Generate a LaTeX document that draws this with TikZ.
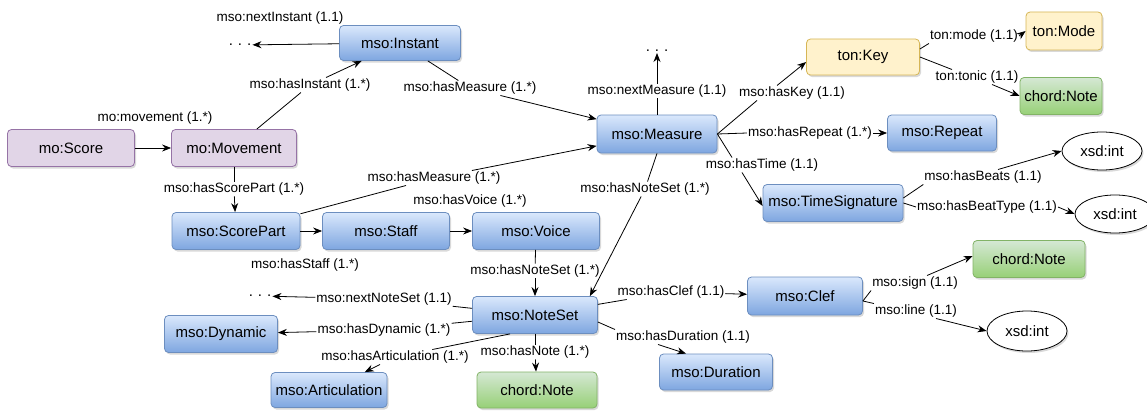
\documentclass[tikz,border=0pt]{standalone}
\usepackage{fontspec}
\setmainfont{Liberation Sans}
\usetikzlibrary{shapes.geometric,shadows,arrows.meta}

\definecolor{blueTop}{HTML}{DAE8FC}
\definecolor{blueBot}{HTML}{7EA6E0}
\definecolor{blueEdge}{HTML}{6C8EBF}
\definecolor{greenTop}{HTML}{D5E8D4}
\definecolor{greenBot}{HTML}{97D077}
\definecolor{greenEdge}{HTML}{82B366}
\definecolor{purpleFill}{HTML}{E1D5E7}
\definecolor{purpleEdge}{HTML}{9673A6}
\definecolor{yellowFill}{HTML}{FFF2CC}
\definecolor{yellowEdge}{HTML}{D6B656}

\tikzset{
  box/.style={rectangle, rounded corners=4pt, line width=0.8pt, inner sep=0pt,
    font=\fontsize{15}{18}\selectfont,
    drop shadow={shadow xshift=1.5pt, shadow yshift=-2pt, opacity=0.3}},
  bluebox/.style={box, top color=blueTop, bottom color=blueBot, draw=blueEdge},
  greenbox/.style={box, top color=greenTop, bottom color=greenBot, draw=greenEdge},
  purplebox/.style={box, fill=purpleFill, draw=purpleEdge},
  yellowbox/.style={box, fill=yellowFill, draw=yellowEdge},
  literal/.style={ellipse, draw=black, fill=white, line width=0.8pt, inner sep=0pt,
    font=\fontsize{15}{18}\selectfont,
    drop shadow={shadow xshift=1.5pt, shadow yshift=-2pt, opacity=0.3}},
  lbl/.style={font=\fontsize{13.5}{16}\selectfont, inner sep=1pt},
  more/.style={font=\fontsize{15}{18}\selectfont, inner sep=1pt},
  rel/.style={draw=black, line width=0.8pt},
  arr/.style={rel, -{Stealth[length=9pt,width=7pt]}},
}

\begin{document}
\begin{tikzpicture}[x=1pt, y=-1pt]
\useasboundingbox (0,0) rectangle (1147,412);

% classes
\node[bluebox, minimum width=121pt, minimum height=35pt] (inst) at (400,43) {mso:Instant};
\node[purplebox, minimum width=127pt, minimum height=37pt] (score) at (71,148) {mo:Score};
\node[purplebox, minimum width=125pt, minimum height=37pt] (mov) at (234,148) {mo:Movement};
\node[bluebox, minimum width=128pt, minimum height=37pt] (spart) at (236,231) {mso:ScorePart};
\node[bluebox, minimum width=127pt, minimum height=37pt] (staff) at (386,231) {mso:Staff};
\node[bluebox, minimum width=127pt, minimum height=37pt] (voice) at (536,231) {mso:Voice};
\node[bluebox, minimum width=120pt, minimum height=38pt] (meas) at (657,134) {mso:Measure};
\node[yellowbox, minimum width=113pt, minimum height=36pt] (key) at (863,57) {ton:Key};
\node[yellowbox, minimum width=76pt, minimum height=38pt] (mode) at (1064,31) {ton:Mode};
\node[greenbox, minimum width=82pt, minimum height=37pt] (noteA) at (1061,96) {chord:Note};
\node[bluebox, minimum width=109pt, minimum height=36pt] (rep) at (942,133) {mso:Repeat};
\node[literal, minimum width=80pt, minimum height=38pt] (intA) at (1102,151) {xsd:int};
\node[bluebox, minimum width=140pt, minimum height=37pt] (tsig) at (833,203) {mso:TimeSignature};
\node[literal, minimum width=80pt, minimum height=38pt] (intB) at (1115,214) {xsd:int};
\node[greenbox, minimum width=112pt, minimum height=37pt] (noteB) at (1029,259) {chord:Note};
\node[bluebox, minimum width=115pt, minimum height=38pt] (clef) at (805,296) {mso:Clef};
\node[literal, minimum width=80pt, minimum height=40pt] (intC) at (1027,331) {xsd:int};
\node[bluebox, minimum width=125pt, minimum height=37pt] (ns) at (535,315) {mso:NoteSet};
\node[bluebox, minimum width=113pt, minimum height=36pt] (dur) at (716,372) {mso:Duration};
\node[greenbox, minimum width=120pt, minimum height=36pt] (noteC) at (537,390) {chord:Note};
\node[bluebox, minimum width=116pt, minimum height=35pt] (artic) at (329,390) {mso:Articulation};
\node[bluebox, minimum width=113pt, minimum height=37pt] (dyn) at (221,334) {mso:Dynamic};

% open continuations
\node[more] (dotsA) at (240,45) {.\,\,.\,\,.};
\node[more] (dotsB) at (657,51) {.\,\,.\,\,.};
\node[more] (dotsC) at (260,296) {.\,\,.\,\,.};

% property labels
\node[lbl] (lNextInst) at (280,18) {mso:nextInstant (1.1)};
\node[lbl] (lHasInst) at (310,85) {mso:hasInstant (1.*)};
\node[lbl] (lMovement) at (155,118) {mo:movement (1.*)};
\node[lbl] (lScorePart) at (234,189) {mso:hasScorePart (1.*)};
\node[lbl] (lMeasSP) at (434,178) {mso:hasMeasure (1.*)};
\node[lbl] (lStaff) at (305,265) {mso:hasStaff (1.*)};
\node[lbl] (lVoice) at (470,201) {mso:hasVoice (1.*)};
\node[lbl] (lNsVoice) at (535,271) {mso:hasNoteSet (1.*)};
\node[lbl] (lNsMeas) at (645,189) {mso:hasNoteSet (1.*)};
\node[lbl] (lMeasInst) at (470,88) {mso:hasMeasure (1.*)};
\node[lbl] (lNextMeas) at (657,91) {mso:nextMeasure (1.1)};
\node[lbl] (lKey) at (792,93) {mso:hasKey (1.1)};
\node[lbl] (lRepeat) at (810,133) {mso:hasRepeat (1.*)};
\node[lbl] (lTime) at (762,165) {mso:hasTime (1.1)};
\node[lbl] (lMode) at (974,36) {ton:mode (1.1)};
\node[lbl] (lTonic) at (977,77) {ton:tonic (1.1)};
\node[lbl] (lBeats) at (983,177) {mso:hasBeats (1.1)};
\node[lbl] (lBeatType) at (987,207) {mso:hasBeatType (1.1)};
\node[lbl] (lClef) at (671,292) {mso:hasClef (1.1)};
\node[lbl] (lSign) at (915,283) {mso:sign (1.1)};
\node[lbl] (lLine) at (916,311) {mso:line (1.1)};
\node[lbl] (lDur) at (683,337) {mso:hasDuration (1.1)};
\node[lbl] (lNote) at (535,352) {mso:hasNote (1.*)};
\node[lbl] (lArtic) at (395,357) {mso:hasArticulation (1.*)};
\node[lbl] (lDyn) at (384,330) {mso:hasDynamic (1.*)};
\node[lbl] (lNextNS) at (384,299) {mso:nextNoteSet (1.1)};

% relations with label above or below the arrow
\draw[arr] (inst) -- (dotsA);
\draw[arr] (score) -- (mov);
\draw[arr] (spart) -- (staff);
\draw[arr] (staff) -- (voice);

% relations broken by their label
\draw[rel] (mov) -- (lHasInst);      \draw[arr] (lHasInst) -- (inst);
\draw[rel] (mov) -- (lScorePart);    \draw[arr] (lScorePart) -- (spart);
\draw[rel] (spart) -- (lMeasSP);     \draw[arr] (lMeasSP) -- (meas);
\draw[rel] (voice) -- (lNsVoice);    \draw[arr] (lNsVoice) -- (ns);
\draw[rel] (meas.south) -- (lNsMeas);\draw[arr] (lNsMeas) -- ([xshift=-8pt]ns.north east);
\draw[rel] (inst) -- (lMeasInst);    \draw[arr] (lMeasInst) -- (meas);
\draw[rel] (meas) -- (lNextMeas);    \draw[arr] (lNextMeas) -- (dotsB);

% measure properties, all leaving from the right side
\draw[rel] (meas.east) -- ([xshift=-35pt]lKey.south);
\draw[arr] ([xshift=-15pt]lKey.north) -- ([yshift=-5pt]key.west);
\draw[rel] (meas.east) -- (lRepeat.west);
\draw[arr] (lRepeat.east) -- (rep.west);
\draw[rel] (meas.east) -- ([xshift=-30pt]lTime.north);
\draw[arr] ([xshift=-20pt]lTime.south) -- ([yshift=-3pt]tsig.west);

% key
\draw[rel] ([yshift=8pt]key.east) -- (lMode.south west);
\draw[arr] (lMode.east) -- (mode.west);
\draw[rel] (key.east) -- ([xshift=-25pt]lTonic.north);
\draw[arr] ([xshift=15pt]lTonic.south) -- (noteA.west);

% time signature
\draw[rel] ([yshift=5pt]tsig.east) -- (lBeats.south west);
\draw[arr] ([xshift=15pt]lBeats.north) -- (intA.west);
\draw[rel] (tsig.east) -- (lBeatType.west);
\draw[arr] (lBeatType.east) -- (intB.west);

% note set
\draw[rel] (ns) -- (lClef);          \draw[arr] (lClef) -- (clef);
\draw[rel] ([yshift=-7pt]ns.east) -- (lDur.north west);
\draw[arr] ([xshift=-25pt]lDur.south) -- ([xshift=-30pt]dur.north);
\draw[rel] (ns) -- (lNote);          \draw[arr] (lNote) -- (noteC);
\draw[rel] ([xshift=-25pt]ns.south) -- (lArtic);
\draw[arr] (lArtic) -- (artic);
\draw[rel] (ns) -- (lDyn);           \draw[arr] (lDyn) -- (dyn);
\draw[rel] (ns) -- (lNextNS);        \draw[arr] (lNextNS) -- (dotsC);

% clef
\draw[rel] ([yshift=-5pt]clef.east) -- (lSign.south west);
\draw[arr] ([xshift=12pt]lSign.north) -- ([yshift=3pt]noteB.west);
\draw[rel] ([yshift=-5pt]clef.east) -- (lLine.north west);
\draw[arr] ([xshift=20pt]lLine.south) -- (intC.west);
\end{tikzpicture}
\end{document}
